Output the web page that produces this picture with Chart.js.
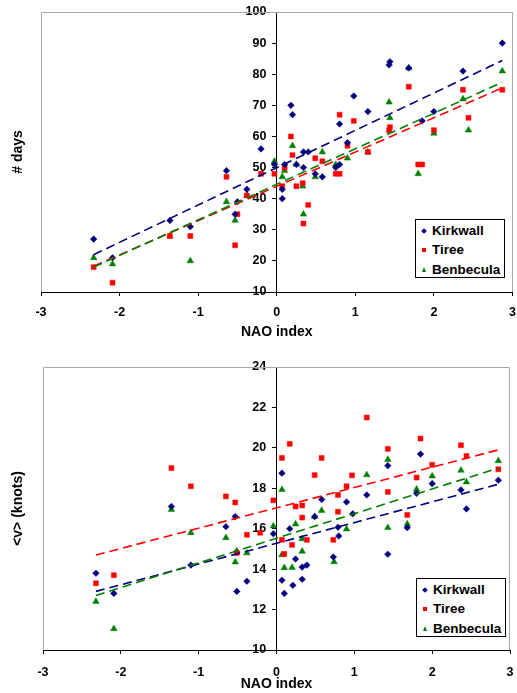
<!DOCTYPE html>
<html>
<head>
<meta charset="utf-8">
<script src="https://cdn.jsdelivr.net/npm/chart.js@4.4.1/dist/chart.umd.min.js"></script>
<style>
  html, body { margin: 0; padding: 0; background: #fff; }
  body { width: 517px; height: 693px; position: relative; overflow: hidden; font-family: "Liberation Sans", Arial, sans-serif; }
  .chartBox { position: absolute; left: 0; width: 517px; }
  .legend { position: absolute; box-sizing: border-box; width: 90px; height: 59px; border: 1px solid #000; background: #fff; }
  .legend .txt { position: absolute; left: 16px; font-weight: bold; font-size: 13.5px; line-height: 16px; color: #000; white-space: nowrap; }
  .legend .mk { position: absolute; }
  .mk-rectRot { width: 4px; height: 4px; transform: rotate(45deg); }
  .mk-rect { width: 4px; height: 4px; }
  .mk-triangle { width: 0; height: 0; border-left: 2.5px solid transparent; border-right: 2.5px solid transparent; }
</style>
</head>
<body>
<div class="chartBox" style="top:0;height:345px"><canvas id="daysChart" width="517" height="345"></canvas></div>
<div class="chartBox" style="top:345px;height:348px"><canvas id="speedChart" width="517" height="348"></canvas></div>
<div class="legend" id="daysLegend" style="left:415px;top:219px"></div>
<div class="legend" id="speedLegend" style="left:416px;top:578px"></div>

<script>
const seriesNames = ['Kirkwall', 'Tiree', 'Benbecula'];
const seriesColors = ['#000080', '#ff0000', '#008000'];
const seriesShapes = ['rectRot', 'rect', 'triangle'];
const seriesRadius = [3.3, 3.5, 3.8];

// [NAO index, # days]
const kirkwallDays = [
  [-2.33, 27], [-2.09, 21], [-1.36, 33], [-1.10, 31], [-0.64, 49], [-0.53, 35], [-0.50, 39], [-0.38, 43],
  [-0.20, 56], [-0.03, 51], [0.07, 43], [0.07, 40], [0.10, 51], [0.18, 70], [0.20, 67], [0.25, 51],
  [0.34, 55], [0.34, 50], [0.40, 55], [0.49, 48], [0.58, 47], [0.75, 50], [0.80, 51], [0.80, 64],
  [0.90, 58], [0.98, 73], [1.16, 68], [1.43, 83], [1.44, 84], [1.68, 82], [1.85, 65], [2.00, 68],
  [2.37, 81], [2.87, 90]
];
const tireeDays = [
  [-2.33, 18], [-2.09, 13], [-1.36, 28], [-1.10, 28], [-0.64, 47], [-0.53, 25], [-0.50, 35], [-0.38, 41],
  [-0.20, 48], [-0.03, 48], [0.07, 44], [0.10, 50], [0.18, 60], [0.20, 54], [0.25, 44], [0.33, 45],
  [0.34, 32], [0.40, 38], [0.49, 53], [0.58, 52], [0.75, 48], [0.80, 48], [0.80, 67], [0.90, 57],
  [0.98, 65], [1.16, 55], [1.43, 62], [1.44, 63], [1.68, 76], [1.80, 51], [1.85, 51], [2.00, 62],
  [2.37, 75], [2.44, 66], [2.87, 75]
];
const benbeculaDays = [
  [-2.33, 21], [-2.09, 19], [-1.36, 28], [-1.10, 20], [-0.64, 39], [-0.53, 33], [-0.38, 41], [-0.03, 52],
  [0.07, 47], [0.10, 49], [0.20, 57], [0.25, 51], [0.33, 44], [0.34, 35], [0.49, 47], [0.58, 55],
  [0.75, 51], [0.90, 53], [1.16, 55], [1.43, 71], [1.44, 66], [1.68, 82], [1.80, 48], [2.00, 61],
  [2.37, 72], [2.44, 62], [2.87, 81]
];

// [NAO index, <v> knots]
const kirkwallSpeed = [
  [-2.32, 13.8], [-2.09, 12.8], [-1.35, 17.1], [-1.10, 14.2], [-0.65, 16.1], [-0.53, 16.6], [-0.51, 12.9], [-0.38, 13.4],
  [-0.04, 15.75], [0.07, 18.75], [0.07, 13.45], [0.10, 12.8], [0.17, 16.0], [0.21, 13.2], [0.245, 14.5], [0.33, 14.1],
  [0.33, 13.5], [0.39, 14.2], [0.49, 16.6], [0.58, 17.45], [0.73, 14.6], [0.80, 15.64], [0.79, 16.07], [0.90, 17.32],
  [0.98, 16.74], [1.16, 17.67], [1.43, 19.12], [1.43, 14.74], [1.68, 16.05], [1.80, 17.75], [1.85, 19.69], [2.00, 18.23],
  [2.37, 17.92], [2.44, 16.98], [2.85, 18.4]
];
const tireeSpeed = [
  [-2.32, 13.3], [-2.09, 13.7], [-1.35, 19.0], [-1.10, 18.1], [-0.65, 17.6], [-0.53, 17.3], [-0.51, 14.8], [-0.38, 15.7],
  [-0.21, 15.8], [-0.04, 17.4], [0.07, 19.5], [0.07, 15.45], [0.10, 14.75], [0.17, 20.2], [0.20, 15.2], [0.245, 17.1],
  [0.33, 17.15], [0.33, 16.55], [0.39, 15.45], [0.49, 18.65], [0.58, 19.5], [0.73, 15.45], [0.79, 17.67], [0.79, 16.84],
  [0.90, 18.1], [0.97, 18.64], [1.16, 21.5], [1.43, 19.95], [1.43, 17.82], [1.68, 16.68], [1.80, 18.53], [1.85, 20.46],
  [2.00, 19.16], [2.37, 20.13], [2.44, 19.6], [2.85, 18.94]
];
const benbeculaSpeed = [
  [-2.32, 12.4], [-2.09, 11.05], [-1.35, 16.95], [-1.10, 15.8], [-0.65, 15.55], [-0.53, 14.35], [-0.51, 14.9], [-0.38, 14.8],
  [-0.04, 16.13], [0.07, 17.93], [0.07, 14.71], [0.10, 14.07], [0.20, 14.08], [0.245, 16.23], [0.33, 15.5], [0.33, 14.88],
  [0.49, 16.6], [0.58, 16.9], [0.74, 14.36], [0.90, 15.98], [1.16, 18.66], [1.43, 19.42], [1.43, 16.05], [1.68, 16.23],
  [1.80, 17.95], [2.00, 18.6], [2.37, 18.89], [2.44, 18.31], [2.85, 19.36]
];

// trend line end points
const daysTrendX = [-2.33, 2.87];
const kirkwallDaysTrend = [22.0, 84.4];
const tireeDaysTrend = [18.3, 75.6];
const benbeculaDaysTrend = [18.0, 77.4];

const speedTrendX = [-2.32, 2.85];
const kirkwallSpeedTrend = [12.9, 18.2];
const tireeSpeedTrend = [14.7, 19.9];
const benbeculaSpeedTrend = [12.7, 19.0];

Chart.defaults.font.family = '"Liberation Sans", Arial, sans-serif';
Chart.defaults.font.size = 12.5;
Chart.defaults.font.weight = 'bold';
Chart.defaults.color = '#000';

const plotFrame = {
  id: 'plotFrame',
  beforeDatasetsDraw(chart) {
    const { ctx, chartArea: a } = chart;
    ctx.save();
    ctx.strokeStyle = '#a8a8a8';
    ctx.lineWidth = 1;
    ctx.beginPath();
    ctx.moveTo(Math.round(a.left) + 0.5, a.bottom);
    ctx.lineTo(Math.round(a.left) + 0.5, Math.round(a.top) + 0.5);
    ctx.lineTo(Math.round(a.right) - 0.5, Math.round(a.top) + 0.5);
    ctx.lineTo(Math.round(a.right) - 0.5, a.bottom);
    ctx.stroke();
    ctx.restore();
  }
};

function toPoints(pairs) {
  return pairs.map(p => ({ x: p[0], y: p[1] }));
}

function makeChart(canvasId, pointSets, trendX, trendSets, yRange, yTitle, dims) {
  const datasets = [];
  pointSets.forEach((pairs, i) => {
    datasets.push({
      label: seriesNames[i],
      data: toPoints(pairs),
      pointStyle: seriesShapes[i],
      pointRadius: seriesRadius[i],
      pointBackgroundColor: seriesColors[i],
      pointBorderColor: seriesColors[i],
      pointBorderWidth: 0.5,
      showLine: false,
      order: 2
    });
  });
  trendSets.forEach((ends, i) => {
    datasets.push({
      label: seriesNames[i] + ' trend',
      data: [{ x: trendX[0], y: ends[0] }, { x: trendX[1], y: ends[1] }],
      showLine: true,
      pointRadius: 0,
      borderColor: seriesColors[i],
      borderWidth: 1.6,
      borderDash: [9, 5],
      fill: false,
      order: 1 - i * 0.1
    });
  });

  return new Chart(document.getElementById(canvasId), {
    type: 'scatter',
    data: { datasets: datasets },
    plugins: [plotFrame],
    options: {
      responsive: false,
      animation: false,
      events: [],
      layout: { padding: { top: dims.top, right: dims.right, bottom: 0, left: 0 } },
      plugins: { legend: { display: false }, tooltip: { enabled: false } },
      scales: {
        x: {
          type: 'linear',
          position: 'bottom',
          min: -3,
          max: 3,
          // padding kept at 0 so the right edge is not pulled in; the tall line height drops the labels
          ticks: { stepSize: 1, padding: 0, font: { size: 12.5, weight: 'bold', lineHeight: dims.xLabelLine } },
          grid: { drawOnChartArea: false, drawTicks: true, tickLength: 4, color: '#000' },
          border: { color: '#000', width: 1 },
          title: { display: true, text: 'NAO index', font: { size: 14, weight: 'bold' }, padding: { top: 0, bottom: dims.xTitlePad } },
          afterFit: function(scale) { scale.height = dims.xHeight; }
        },
        y: {
          type: 'linear',
          position: { x: 0 },
          min: yRange[0],
          max: yRange[1],
          ticks: {
            stepSize: yRange[2],
            font: { size: 12.5, weight: 'bold' },
            callback: function(value) { return value + '   '; }
          },
          grid: { drawOnChartArea: false, drawTicks: true, tickLength: 4, color: '#000' },
          border: { color: '#000', width: 1 }
        },
        yTitle: {
          type: 'linear',
          position: 'left',
          min: yRange[0],
          max: yRange[1],
          ticks: { display: false },
          grid: { display: false },
          border: { display: false },
          title: { display: true, text: yTitle, font: { size: 14, weight: 'bold' }, padding: { top: 10, bottom: 0 } },
          afterFit: function(scale) { scale.width = dims.left; }
        }
      }
    }
  });
}

function buildLegend(id) {
  const box = document.getElementById(id);
  const rowCenters = [10.5, 30, 49.5];
  seriesNames.forEach((name, i) => {
    const mk = document.createElement('div');
    mk.className = 'mk mk-' + seriesShapes[i];
    if (seriesShapes[i] === 'triangle') {
      mk.style.borderBottom = '5px solid ' + seriesColors[i];
      mk.style.left = '5.5px';
      mk.style.top = (rowCenters[i] - 3) + 'px';
    } else {
      mk.style.background = seriesColors[i];
      mk.style.left = '6px';
      mk.style.top = (rowCenters[i] - 2) + 'px';
    }
    box.appendChild(mk);
    const txt = document.createElement('div');
    txt.className = 'txt';
    txt.textContent = name;
    txt.style.top = (rowCenters[i] - 8) + 'px';
    box.appendChild(txt);
  });
}

makeChart('daysChart',
  [kirkwallDays, tireeDays, benbeculaDays],
  daysTrendX,
  [kirkwallDaysTrend, tireeDaysTrend, benbeculaDaysTrend],
  [10, 100, 10], '# days',
  { top: 12, right: 3, left: 41, xHeight: 53, xLabelLine: 2.72, xTitlePad: 4.6 });

makeChart('speedChart',
  [kirkwallSpeed, tireeSpeed, benbeculaSpeed],
  speedTrendX,
  [kirkwallSpeedTrend, tireeSpeedTrend, benbeculaSpeedTrend],
  [10, 24, 2], '<v> (knots)',
  { top: 22, right: 7, left: 43, xHeight: 43, xLabelLine: 2.95, xTitlePad: 0 });

buildLegend('daysLegend');
buildLegend('speedLegend');
</script>
</body>
</html>
